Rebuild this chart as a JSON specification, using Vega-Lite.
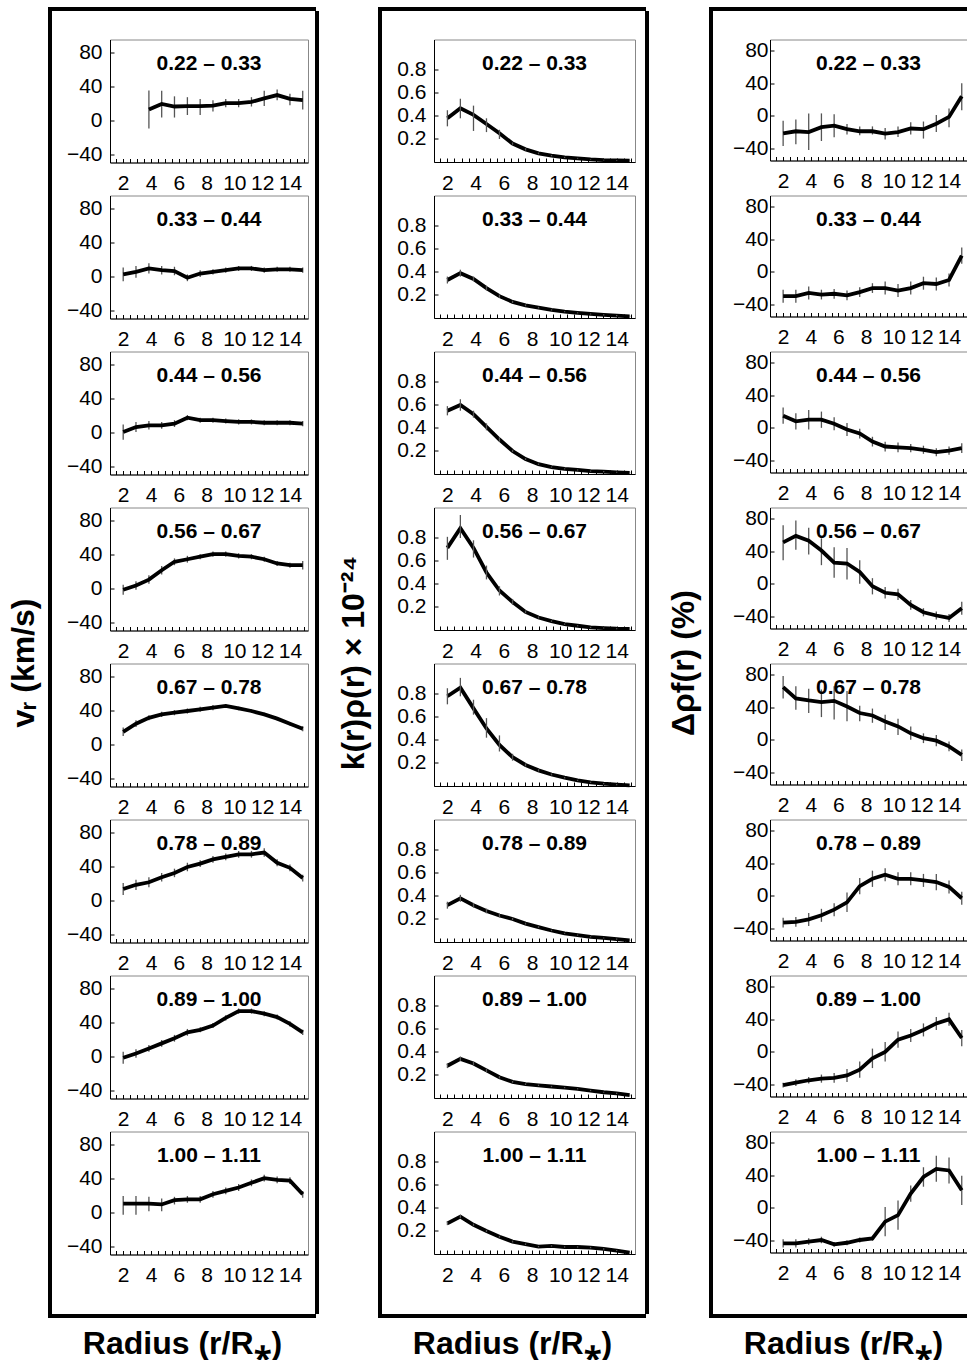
{
"$schema": "https://vega.github.io/schema/vega-lite/v6.json",
"background": "white",
"padding": {"left": 6, "top": 7, "right": 0, "bottom": 0},
"datasets": {
"vr": [
{"p":1,"r":3.85,"v":12.5,"lo":-10,"hi":35},{"p":1,"r":4.77,"v":19,"lo":3,"hi":34.5},{"p":1,"r":5.69,"v":16,"lo":3,"hi":28},{"p":1,"r":6.62,"v":16.5,"lo":6,"hi":27},{"p":1,"r":7.54,"v":16.5,"lo":6,"hi":25},{"p":1,"r":8.46,"v":17,"lo":10,"hi":23.5},{"p":1,"r":9.38,"v":20,"lo":15,"hi":25},{"p":1,"r":10.31,"v":20,"lo":15,"hi":25},{"p":1,"r":11.23,"v":21.5,"lo":16,"hi":27},{"p":1,"r":12.15,"v":25.5,"lo":16.5,"hi":34.5},{"p":1,"r":13.08,"v":29.5,"lo":23.5,"hi":36},{"p":1,"r":14,"v":25,"lo":17.5,"hi":31},{"p":1,"r":14.92,"v":23.5,"lo":12.5,"hi":34.5},
{"p":2,"r":2,"v":2,"lo":-6,"hi":10},{"p":2,"r":2.92,"v":5,"lo":-2,"hi":12},{"p":2,"r":3.85,"v":9,"lo":3,"hi":15},{"p":2,"r":4.77,"v":7,"lo":2,"hi":12},{"p":2,"r":5.69,"v":6,"lo":1,"hi":11},{"p":2,"r":6.62,"v":-2,"lo":-6,"hi":2},{"p":2,"r":7.54,"v":3,"lo":-1,"hi":7},{"p":2,"r":8.46,"v":5,"lo":2,"hi":8},{"p":2,"r":9.38,"v":7,"lo":4,"hi":10},{"p":2,"r":10.31,"v":9,"lo":6,"hi":12},{"p":2,"r":11.23,"v":9,"lo":6,"hi":12},{"p":2,"r":12.15,"v":7,"lo":4,"hi":10},{"p":2,"r":13.08,"v":8,"lo":5,"hi":11},{"p":2,"r":14,"v":8,"lo":5,"hi":11},{"p":2,"r":14.92,"v":7,"lo":4,"hi":10},
{"p":3,"r":2,"v":0,"lo":-9,"hi":9},{"p":3,"r":2.92,"v":6,"lo":0,"hi":12},{"p":3,"r":3.85,"v":8,"lo":3,"hi":13},{"p":3,"r":4.77,"v":8,"lo":4,"hi":12},{"p":3,"r":5.69,"v":10,"lo":6,"hi":14},{"p":3,"r":6.62,"v":17,"lo":14,"hi":20},{"p":3,"r":7.54,"v":14,"lo":11,"hi":17},{"p":3,"r":8.46,"v":14,"lo":11,"hi":17},{"p":3,"r":9.38,"v":13,"lo":10,"hi":16},{"p":3,"r":10.31,"v":12,"lo":9,"hi":15},{"p":3,"r":11.23,"v":12,"lo":9,"hi":15},{"p":3,"r":12.15,"v":11,"lo":8,"hi":14},{"p":3,"r":13.08,"v":11,"lo":8,"hi":14},{"p":3,"r":14,"v":11,"lo":8,"hi":14},{"p":3,"r":14.92,"v":10,"lo":7,"hi":13},
{"p":4,"r":2,"v":-2,"lo":-8,"hi":4},{"p":4,"r":2.92,"v":3,"lo":-2,"hi":8},{"p":4,"r":3.85,"v":10,"lo":5,"hi":15},{"p":4,"r":4.77,"v":21,"lo":16,"hi":26},{"p":4,"r":5.69,"v":31,"lo":27,"hi":35},{"p":4,"r":6.62,"v":34,"lo":30,"hi":38},{"p":4,"r":7.54,"v":37,"lo":34,"hi":40},{"p":4,"r":8.46,"v":40,"lo":37,"hi":43},{"p":4,"r":9.38,"v":40,"lo":37,"hi":43},{"p":4,"r":10.31,"v":38,"lo":35,"hi":41},{"p":4,"r":11.23,"v":37,"lo":34,"hi":40},{"p":4,"r":12.15,"v":34,"lo":31,"hi":37},{"p":4,"r":13.08,"v":29,"lo":26,"hi":32},{"p":4,"r":14,"v":27,"lo":24,"hi":30},{"p":4,"r":14.92,"v":27,"lo":22,"hi":32},
{"p":5,"r":2,"v":14.5,"lo":9.5,"hi":19.5},{"p":5,"r":2.92,"v":24,"lo":20,"hi":28},{"p":5,"r":3.85,"v":31,"lo":28,"hi":34},{"p":5,"r":4.77,"v":35,"lo":32,"hi":38},{"p":5,"r":5.69,"v":37,"lo":34,"hi":40},{"p":5,"r":6.62,"v":39,"lo":36,"hi":42},{"p":5,"r":7.54,"v":41,"lo":38,"hi":44},{"p":5,"r":8.46,"v":43,"lo":40,"hi":46},{"p":5,"r":9.38,"v":45,"lo":43,"hi":47},{"p":5,"r":10.31,"v":42,"lo":40,"hi":44},{"p":5,"r":11.23,"v":39,"lo":37,"hi":41},{"p":5,"r":12.15,"v":35,"lo":33,"hi":37},{"p":5,"r":13.08,"v":30,"lo":28,"hi":32},{"p":5,"r":14,"v":24,"lo":22,"hi":26},{"p":5,"r":14.92,"v":18,"lo":15,"hi":21},
{"p":6,"r":2,"v":13,"lo":6,"hi":20},{"p":6,"r":2.92,"v":18,"lo":12,"hi":24},{"p":6,"r":3.85,"v":21,"lo":15,"hi":27},{"p":6,"r":4.77,"v":27,"lo":22,"hi":32},{"p":6,"r":5.69,"v":32,"lo":27,"hi":37},{"p":6,"r":6.62,"v":39,"lo":34,"hi":44},{"p":6,"r":7.54,"v":43,"lo":39,"hi":47},{"p":6,"r":8.46,"v":48,"lo":44,"hi":52},{"p":6,"r":9.38,"v":51,"lo":47,"hi":55},{"p":6,"r":10.31,"v":54,"lo":50,"hi":58},{"p":6,"r":11.23,"v":54,"lo":50,"hi":58},{"p":6,"r":12.15,"v":56,"lo":51,"hi":61},{"p":6,"r":13.08,"v":44,"lo":40,"hi":48},{"p":6,"r":14,"v":38,"lo":34,"hi":42},{"p":6,"r":14.92,"v":26,"lo":22,"hi":30},
{"p":7,"r":2,"v":-2,"lo":-9,"hi":5},{"p":7,"r":2.92,"v":3,"lo":-2,"hi":8},{"p":7,"r":3.85,"v":9,"lo":5,"hi":13},{"p":7,"r":4.77,"v":15,"lo":11,"hi":19},{"p":7,"r":5.69,"v":21,"lo":17,"hi":25},{"p":7,"r":6.62,"v":28,"lo":24,"hi":32},{"p":7,"r":7.54,"v":31,"lo":28,"hi":34},{"p":7,"r":8.46,"v":36,"lo":33,"hi":39},{"p":7,"r":9.38,"v":45,"lo":42,"hi":48},{"p":7,"r":10.31,"v":53,"lo":50,"hi":56},{"p":7,"r":11.23,"v":53,"lo":50,"hi":56},{"p":7,"r":12.15,"v":50,"lo":47,"hi":53},{"p":7,"r":13.08,"v":46,"lo":43,"hi":49},{"p":7,"r":14,"v":38,"lo":35,"hi":41},{"p":7,"r":14.92,"v":28,"lo":25,"hi":31},
{"p":8,"r":2,"v":10,"lo":-3,"hi":19},{"p":8,"r":2.92,"v":10,"lo":-3,"hi":19},{"p":8,"r":3.85,"v":10,"lo":1,"hi":18},{"p":8,"r":4.77,"v":9,"lo":1,"hi":16},{"p":8,"r":5.69,"v":14,"lo":9,"hi":18},{"p":8,"r":6.62,"v":15,"lo":11,"hi":19},{"p":8,"r":7.54,"v":15,"lo":11,"hi":19},{"p":8,"r":8.46,"v":21,"lo":17,"hi":25},{"p":8,"r":9.38,"v":25,"lo":21,"hi":29},{"p":8,"r":10.31,"v":29,"lo":25,"hi":33},{"p":8,"r":11.23,"v":34.5,"lo":30.5,"hi":38.5},{"p":8,"r":12.15,"v":40,"lo":36,"hi":44},{"p":8,"r":13.08,"v":38,"lo":34,"hi":42},{"p":8,"r":14,"v":37,"lo":33,"hi":41},{"p":8,"r":14.92,"v":21,"lo":17,"hi":25}
],
"kr": [
{"p":1,"r":2,"v":0.38,"lo":0.31,"hi":0.45},{"p":1,"r":2.92,"v":0.467,"lo":0.38,"hi":0.55},{"p":1,"r":3.85,"v":0.41,"lo":0.27,"hi":0.49},{"p":1,"r":4.77,"v":0.33,"lo":0.26,"hi":0.38},{"p":1,"r":5.69,"v":0.25,"lo":0.2,"hi":0.28},{"p":1,"r":6.62,"v":0.16,"lo":0.15,"hi":0.17},{"p":1,"r":7.54,"v":0.11,"lo":0.1,"hi":0.12},{"p":1,"r":8.46,"v":0.075,"lo":0.068,"hi":0.082},{"p":1,"r":9.38,"v":0.055,"lo":0.049,"hi":0.061},{"p":1,"r":10.31,"v":0.04,"lo":0.035,"hi":0.045},{"p":1,"r":11.23,"v":0.032,"lo":0.028,"hi":0.036},{"p":1,"r":12.15,"v":0.023,"lo":0.02,"hi":0.026},{"p":1,"r":13.08,"v":0.017,"lo":0.014,"hi":0.02},{"p":1,"r":14,"v":0.014,"lo":0.011,"hi":0.017},{"p":1,"r":14.92,"v":0.012,"lo":0.009,"hi":0.015},
{"p":2,"r":2,"v":0.33,"lo":0.3,"hi":0.36},{"p":2,"r":2.92,"v":0.39,"lo":0.36,"hi":0.42},{"p":2,"r":3.85,"v":0.34,"lo":0.32,"hi":0.36},{"p":2,"r":4.77,"v":0.26,"lo":0.24,"hi":0.28},{"p":2,"r":5.69,"v":0.19,"lo":0.175,"hi":0.205},{"p":2,"r":6.62,"v":0.14,"lo":0.13,"hi":0.15},{"p":2,"r":7.54,"v":0.11,"lo":0.102,"hi":0.118},{"p":2,"r":8.46,"v":0.09,"lo":0.083,"hi":0.097},{"p":2,"r":9.38,"v":0.07,"lo":0.064,"hi":0.076},{"p":2,"r":10.31,"v":0.055,"lo":0.05,"hi":0.06},{"p":2,"r":11.23,"v":0.045,"lo":0.04,"hi":0.05},{"p":2,"r":12.15,"v":0.035,"lo":0.03,"hi":0.04},{"p":2,"r":13.08,"v":0.027,"lo":0.022,"hi":0.032},{"p":2,"r":14,"v":0.02,"lo":0.015,"hi":0.025},{"p":2,"r":14.92,"v":0.015,"lo":0.01,"hi":0.02},
{"p":3,"r":2,"v":0.55,"lo":0.51,"hi":0.59},{"p":3,"r":2.92,"v":0.6,"lo":0.55,"hi":0.65},{"p":3,"r":3.85,"v":0.52,"lo":0.49,"hi":0.55},{"p":3,"r":4.77,"v":0.41,"lo":0.38,"hi":0.44},{"p":3,"r":5.69,"v":0.3,"lo":0.28,"hi":0.32},{"p":3,"r":6.62,"v":0.2,"lo":0.19,"hi":0.21},{"p":3,"r":7.54,"v":0.13,"lo":0.122,"hi":0.138},{"p":3,"r":8.46,"v":0.085,"lo":0.079,"hi":0.091},{"p":3,"r":9.38,"v":0.06,"lo":0.055,"hi":0.065},{"p":3,"r":10.31,"v":0.045,"lo":0.04,"hi":0.05},{"p":3,"r":11.23,"v":0.035,"lo":0.03,"hi":0.04},{"p":3,"r":12.15,"v":0.025,"lo":0.02,"hi":0.03},{"p":3,"r":13.08,"v":0.02,"lo":0.015,"hi":0.025},{"p":3,"r":14,"v":0.015,"lo":0.01,"hi":0.02},{"p":3,"r":14.92,"v":0.01,"lo":0.005,"hi":0.015},
{"p":4,"r":2,"v":0.714,"lo":0.61,"hi":0.81},{"p":4,"r":2.92,"v":0.886,"lo":0.8,"hi":1.0},{"p":4,"r":3.85,"v":0.714,"lo":0.63,"hi":0.78},{"p":4,"r":4.77,"v":0.5,"lo":0.44,"hi":0.56},{"p":4,"r":5.69,"v":0.343,"lo":0.3,"hi":0.38},{"p":4,"r":6.62,"v":0.243,"lo":0.22,"hi":0.27},{"p":4,"r":7.54,"v":0.157,"lo":0.145,"hi":0.17},{"p":4,"r":8.46,"v":0.109,"lo":0.1,"hi":0.118},{"p":4,"r":9.38,"v":0.077,"lo":0.07,"hi":0.084},{"p":4,"r":10.31,"v":0.051,"lo":0.045,"hi":0.057},{"p":4,"r":11.23,"v":0.037,"lo":0.032,"hi":0.042},{"p":4,"r":12.15,"v":0.023,"lo":0.018,"hi":0.028},{"p":4,"r":13.08,"v":0.017,"lo":0.012,"hi":0.022},{"p":4,"r":14,"v":0.011,"lo":0.006,"hi":0.016},{"p":4,"r":14.92,"v":0.009,"lo":0.004,"hi":0.014},
{"p":5,"r":2,"v":0.78,"lo":0.71,"hi":0.85},{"p":5,"r":2.92,"v":0.855,"lo":0.78,"hi":0.94},{"p":5,"r":3.85,"v":0.675,"lo":0.62,"hi":0.75},{"p":5,"r":4.77,"v":0.5,"lo":0.42,"hi":0.59},{"p":5,"r":5.69,"v":0.357,"lo":0.3,"hi":0.44},{"p":5,"r":6.62,"v":0.25,"lo":0.22,"hi":0.28},{"p":5,"r":7.54,"v":0.183,"lo":0.17,"hi":0.196},{"p":5,"r":8.46,"v":0.136,"lo":0.126,"hi":0.146},{"p":5,"r":9.38,"v":0.1,"lo":0.092,"hi":0.108},{"p":5,"r":10.31,"v":0.072,"lo":0.066,"hi":0.078},{"p":5,"r":11.23,"v":0.049,"lo":0.044,"hi":0.054},{"p":5,"r":12.15,"v":0.032,"lo":0.027,"hi":0.037},{"p":5,"r":13.08,"v":0.02,"lo":0.015,"hi":0.025},{"p":5,"r":14,"v":0.012,"lo":0.007,"hi":0.017},{"p":5,"r":14.92,"v":0.006,"lo":0.002,"hi":0.01},
{"p":6,"r":2,"v":0.32,"lo":0.29,"hi":0.35},{"p":6,"r":2.92,"v":0.38,"lo":0.35,"hi":0.41},{"p":6,"r":3.85,"v":0.32,"lo":0.3,"hi":0.34},{"p":6,"r":4.77,"v":0.27,"lo":0.25,"hi":0.29},{"p":6,"r":5.69,"v":0.23,"lo":0.215,"hi":0.245},{"p":6,"r":6.62,"v":0.2,"lo":0.19,"hi":0.21},{"p":6,"r":7.54,"v":0.16,"lo":0.152,"hi":0.168},{"p":6,"r":8.46,"v":0.13,"lo":0.123,"hi":0.137},{"p":6,"r":9.38,"v":0.1,"lo":0.094,"hi":0.106},{"p":6,"r":10.31,"v":0.075,"lo":0.07,"hi":0.08},{"p":6,"r":11.23,"v":0.06,"lo":0.055,"hi":0.065},{"p":6,"r":12.15,"v":0.045,"lo":0.04,"hi":0.05},{"p":6,"r":13.08,"v":0.035,"lo":0.03,"hi":0.04},{"p":6,"r":14,"v":0.025,"lo":0.02,"hi":0.03},{"p":6,"r":14.92,"v":0.015,"lo":0.01,"hi":0.02},
{"p":7,"r":2,"v":0.28,"lo":0.26,"hi":0.3},{"p":7,"r":2.92,"v":0.34,"lo":0.32,"hi":0.36},{"p":7,"r":3.85,"v":0.3,"lo":0.285,"hi":0.315},{"p":7,"r":4.77,"v":0.24,"lo":0.225,"hi":0.255},{"p":7,"r":5.69,"v":0.18,"lo":0.17,"hi":0.19},{"p":7,"r":6.62,"v":0.14,"lo":0.132,"hi":0.148},{"p":7,"r":7.54,"v":0.12,"lo":0.113,"hi":0.127},{"p":7,"r":8.46,"v":0.11,"lo":0.104,"hi":0.116},{"p":7,"r":9.38,"v":0.1,"lo":0.094,"hi":0.106},{"p":7,"r":10.31,"v":0.09,"lo":0.085,"hi":0.095},{"p":7,"r":11.23,"v":0.08,"lo":0.075,"hi":0.085},{"p":7,"r":12.15,"v":0.065,"lo":0.06,"hi":0.07},{"p":7,"r":13.08,"v":0.05,"lo":0.045,"hi":0.055},{"p":7,"r":14,"v":0.04,"lo":0.035,"hi":0.045},{"p":7,"r":14.92,"v":0.025,"lo":0.02,"hi":0.03},
{"p":8,"r":2,"v":0.266,"lo":0.251,"hi":0.281},{"p":8,"r":2.92,"v":0.325,"lo":0.31,"hi":0.34},{"p":8,"r":3.85,"v":0.254,"lo":0.244,"hi":0.264},{"p":8,"r":4.77,"v":0.2,"lo":0.19,"hi":0.21},{"p":8,"r":5.69,"v":0.15,"lo":0.142,"hi":0.158},{"p":8,"r":6.62,"v":0.108,"lo":0.1,"hi":0.116},{"p":8,"r":7.54,"v":0.085,"lo":0.078,"hi":0.092},{"p":8,"r":8.46,"v":0.064,"lo":0.058,"hi":0.07},{"p":8,"r":9.38,"v":0.07,"lo":0.064,"hi":0.076},{"p":8,"r":10.31,"v":0.061,"lo":0.055,"hi":0.067},{"p":8,"r":11.23,"v":0.061,"lo":0.055,"hi":0.067},{"p":8,"r":12.15,"v":0.056,"lo":0.05,"hi":0.062},{"p":8,"r":13.08,"v":0.044,"lo":0.038,"hi":0.05},{"p":8,"r":14,"v":0.03,"lo":0.025,"hi":0.035},{"p":8,"r":14.92,"v":0.012,"lo":0.007,"hi":0.017}
],
"dr": [
{"p":1,"r":2,"v":-21.5,"lo":-37,"hi":-6},{"p":1,"r":2.92,"v":-19,"lo":-35,"hi":-4.6},{"p":1,"r":3.85,"v":-20,"lo":-42,"hi":3},{"p":1,"r":4.77,"v":-14,"lo":-31,"hi":3},{"p":1,"r":5.69,"v":-12,"lo":-26.5,"hi":2},{"p":1,"r":6.62,"v":-16.4,"lo":-23,"hi":-10},{"p":1,"r":7.54,"v":-19,"lo":-24,"hi":-13},{"p":1,"r":8.46,"v":-19,"lo":-23,"hi":-13},{"p":1,"r":9.38,"v":-22,"lo":-29,"hi":-15},{"p":1,"r":10.31,"v":-20,"lo":-26,"hi":-13},{"p":1,"r":11.23,"v":-15.6,"lo":-23,"hi":-8},{"p":1,"r":12.15,"v":-16.4,"lo":-28,"hi":-7},{"p":1,"r":13.08,"v":-9.7,"lo":-20,"hi":1},{"p":1,"r":14,"v":-1.3,"lo":-14,"hi":9},{"p":1,"r":14.92,"v":24,"lo":7,"hi":40},
{"p":2,"r":2,"v":-30,"lo":-38,"hi":-22},{"p":2,"r":2.92,"v":-30,"lo":-38,"hi":-22},{"p":2,"r":3.85,"v":-26,"lo":-34,"hi":-18},{"p":2,"r":4.77,"v":-28,"lo":-34,"hi":-22},{"p":2,"r":5.69,"v":-27,"lo":-33,"hi":-21},{"p":2,"r":6.62,"v":-29,"lo":-35,"hi":-23},{"p":2,"r":7.54,"v":-25,"lo":-31,"hi":-19},{"p":2,"r":8.46,"v":-20,"lo":-26,"hi":-14},{"p":2,"r":9.38,"v":-20,"lo":-28,"hi":-12},{"p":2,"r":10.31,"v":-23,"lo":-31,"hi":-15},{"p":2,"r":11.23,"v":-20,"lo":-28,"hi":-12},{"p":2,"r":12.15,"v":-14,"lo":-22,"hi":-6},{"p":2,"r":13.08,"v":-15,"lo":-23,"hi":-7},{"p":2,"r":14,"v":-10,"lo":-18,"hi":-2},{"p":2,"r":14.92,"v":20,"lo":10,"hi":30},
{"p":3,"r":2,"v":15,"lo":5,"hi":25},{"p":3,"r":2.92,"v":8,"lo":-2,"hi":18},{"p":3,"r":3.85,"v":10,"lo":-2,"hi":22},{"p":3,"r":4.77,"v":10,"lo":0,"hi":20},{"p":3,"r":5.69,"v":5,"lo":-3,"hi":13},{"p":3,"r":6.62,"v":-2,"lo":-10,"hi":6},{"p":3,"r":7.54,"v":-7,"lo":-13,"hi":-1},{"p":3,"r":8.46,"v":-17,"lo":-23,"hi":-11},{"p":3,"r":9.38,"v":-23,"lo":-29,"hi":-17},{"p":3,"r":10.31,"v":-24,"lo":-30,"hi":-18},{"p":3,"r":11.23,"v":-25,"lo":-30,"hi":-20},{"p":3,"r":12.15,"v":-27,"lo":-32,"hi":-22},{"p":3,"r":13.08,"v":-30,"lo":-35,"hi":-25},{"p":3,"r":14,"v":-28,"lo":-33,"hi":-23},{"p":3,"r":14.92,"v":-25,"lo":-31,"hi":-19},
{"p":4,"r":2,"v":51,"lo":29,"hi":72},{"p":4,"r":2.92,"v":59,"lo":42,"hi":78},{"p":4,"r":3.85,"v":53,"lo":36,"hi":69},{"p":4,"r":4.77,"v":41,"lo":23,"hi":56},{"p":4,"r":5.69,"v":26,"lo":7.5,"hi":45},{"p":4,"r":6.62,"v":25,"lo":5.4,"hi":44},{"p":4,"r":7.54,"v":14.6,"lo":0,"hi":29},{"p":4,"r":8.46,"v":-3,"lo":-13,"hi":7},{"p":4,"r":9.38,"v":-11,"lo":-18,"hi":-4},{"p":4,"r":10.31,"v":-13,"lo":-20,"hi":-6},{"p":4,"r":11.23,"v":-26,"lo":-32,"hi":-20},{"p":4,"r":12.15,"v":-35,"lo":-40,"hi":-30},{"p":4,"r":13.08,"v":-39,"lo":-44,"hi":-34},{"p":4,"r":14,"v":-42,"lo":-47,"hi":-37},{"p":4,"r":14.92,"v":-30,"lo":-38,"hi":-22},
{"p":5,"r":2,"v":65,"lo":51,"hi":78.5},{"p":5,"r":2.92,"v":51,"lo":37,"hi":66},{"p":5,"r":3.85,"v":48.5,"lo":33,"hi":63},{"p":5,"r":4.77,"v":46.5,"lo":28,"hi":62},{"p":5,"r":5.69,"v":48,"lo":25,"hi":66},{"p":5,"r":6.62,"v":41,"lo":23,"hi":60},{"p":5,"r":7.54,"v":33,"lo":23,"hi":42},{"p":5,"r":8.46,"v":30,"lo":21,"hi":38.5},{"p":5,"r":9.38,"v":22.6,"lo":12,"hi":31},{"p":5,"r":10.31,"v":16.5,"lo":6,"hi":26},{"p":5,"r":11.23,"v":8,"lo":0,"hi":16.5},{"p":5,"r":12.15,"v":2,"lo":-4,"hi":8},{"p":5,"r":13.08,"v":-1,"lo":-8,"hi":6},{"p":5,"r":14,"v":-8,"lo":-14,"hi":-2},{"p":5,"r":14.92,"v":-18.5,"lo":-26,"hi":-12},
{"p":6,"r":2,"v":-33,"lo":-39,"hi":-27},{"p":6,"r":2.92,"v":-32,"lo":-38,"hi":-26},{"p":6,"r":3.85,"v":-29,"lo":-37,"hi":-21},{"p":6,"r":4.77,"v":-24,"lo":-32,"hi":-16},{"p":6,"r":5.69,"v":-17,"lo":-25,"hi":-9},{"p":6,"r":6.62,"v":-8,"lo":-20,"hi":4},{"p":6,"r":7.54,"v":12,"lo":2,"hi":22},{"p":6,"r":8.46,"v":21,"lo":11,"hi":31},{"p":6,"r":9.38,"v":26,"lo":18,"hi":34},{"p":6,"r":10.31,"v":21,"lo":13,"hi":29},{"p":6,"r":11.23,"v":21,"lo":13,"hi":29},{"p":6,"r":12.15,"v":19,"lo":11,"hi":27},{"p":6,"r":13.08,"v":17,"lo":7,"hi":27},{"p":6,"r":14,"v":11,"lo":3,"hi":19},{"p":6,"r":14.92,"v":-3,"lo":-11,"hi":5},
{"p":7,"r":2,"v":-41,"lo":-44,"hi":-38},{"p":7,"r":2.92,"v":-38,"lo":-42,"hi":-34},{"p":7,"r":3.85,"v":-35,"lo":-39,"hi":-31},{"p":7,"r":4.77,"v":-33,"lo":-38,"hi":-28},{"p":7,"r":5.69,"v":-32,"lo":-38,"hi":-26},{"p":7,"r":6.62,"v":-29,"lo":-37,"hi":-21},{"p":7,"r":7.54,"v":-22,"lo":-32,"hi":-12},{"p":7,"r":8.46,"v":-8,"lo":-20,"hi":4},{"p":7,"r":9.38,"v":0,"lo":-12,"hi":12},{"p":7,"r":10.31,"v":15,"lo":5,"hi":25},{"p":7,"r":11.23,"v":20,"lo":12,"hi":28},{"p":7,"r":12.15,"v":27,"lo":19,"hi":35},{"p":7,"r":13.08,"v":35,"lo":27,"hi":43},{"p":7,"r":14,"v":40,"lo":32,"hi":48},{"p":7,"r":14.92,"v":17,"lo":7,"hi":27},
{"p":8,"r":2,"v":-43.7,"lo":-48.7,"hi":-38.7},{"p":8,"r":2.92,"v":-43.7,"lo":-48.7,"hi":-38.7},{"p":8,"r":3.85,"v":-41.6,"lo":-45.6,"hi":-37.6},{"p":8,"r":4.77,"v":-39.6,"lo":-43.6,"hi":-35.6},{"p":8,"r":5.69,"v":-45,"lo":-48,"hi":-42},{"p":8,"r":6.62,"v":-43,"lo":-46,"hi":-40},{"p":8,"r":7.54,"v":-39.6,"lo":-42.6,"hi":-36.6},{"p":8,"r":8.46,"v":-37.6,"lo":-40.6,"hi":-34.6},{"p":8,"r":9.38,"v":-17,"lo":-35,"hi":1},{"p":8,"r":10.31,"v":-9,"lo":-27,"hi":9},{"p":8,"r":11.23,"v":17.6,"lo":7.6,"hi":27.6},{"p":8,"r":12.15,"v":38,"lo":26,"hi":50},{"p":8,"r":13.08,"v":48,"lo":32,"hi":64},{"p":8,"r":14,"v":46,"lo":30,"hi":62},{"p":8,"r":14.92,"v":21.6,"lo":3.6,"hi":39.6}
]
},
"spacing": 17,
"hconcat": [
{"spacing": 0, "vconcat": [
 {"width": 266, "height": 2, "view": {"fill": "black", "stroke": "black", "strokeWidth": 2}, "data": {"values": []}, "mark": "point"},
 {"center": true, "spacing": 4, "hconcat": [
  {"width": 2, "height": 1301, "view": {"fill": "black", "stroke": "black", "strokeWidth": 2}, "data": {"values": []}, "mark": "point",
   "encoding": {"y": {"field": "v", "type": "quantitative", "scale": {"domain": [0, 1]}, "axis": {"title": "vᵣ (km/s)", "labels": false, "ticks": false, "domain": false, "minExtent": 0, "titleFontSize": 32, "titleFontWeight": "bold", "titleColor": "black", "titlePadding": 9}}}},
  {"data": {"name": "vr"}, "spacing": 0, "vconcat": [
   {"title": "0.22 – 0.33", "width": 198, "height": 123, "transform": [{"filter": "datum.p == 1"}],
    "encoding": {"x": {"field": "r", "type": "quantitative", "scale": {"domain": [1.05, 15.3], "nice": false, "zero": false}, "axis": {"title": null, "minExtent": 31.5, "values": [1.5,2,2.5,3,3.5,4,4.5,5,5.5,6,6.5,7,7.5,8,8.5,9,9.5,10,10.5,11,11.5,12,12.5,13,13.5,14,14.5,15], "labelExpr": "datum.value % 2 === 0 ? '' + datum.value : ''"}},
     "y": {"field": "v", "type": "quantitative", "scale": {"domain": [-50, 95], "nice": false, "zero": false}, "axis": {"title": null, "minExtent": 53, "values": [-40,-20,0,20,40,60,80], "labelExpr": "datum.value % 40 === 0 ? datum.label : ''"}}},
    "layer": [
     {"transform": [{"aggregate": [{"op": "count", "as": "n"}]}], "mark": {"type": "rule", "color": "#333", "strokeWidth": 1}, "encoding": {"x": {"datum": 1.05}, "x2": {"datum": 15.3}, "y": {"datum": 0, "type": "quantitative"}}},
     {"mark": {"type": "rule", "color": "#555", "strokeWidth": 1.3}, "encoding": {"y": {"field": "lo", "type": "quantitative", "scale": {"domain": [-50, 95], "nice": false, "zero": false}, "axis": {"title": null, "minExtent": 53}}, "y2": {"field": "hi"}}},
     {"mark": {"type": "line", "color": "black", "strokeWidth": 3.8}}
    ]},
   {"title": "0.33 – 0.44", "width": 198, "height": 123, "transform": [{"filter": "datum.p == 2"}],
    "encoding": {"x": {"field": "r", "type": "quantitative", "scale": {"domain": [1.05, 15.3], "nice": false, "zero": false}, "axis": {"title": null, "minExtent": 31.5, "values": [1.5,2,2.5,3,3.5,4,4.5,5,5.5,6,6.5,7,7.5,8,8.5,9,9.5,10,10.5,11,11.5,12,12.5,13,13.5,14,14.5,15], "labelExpr": "datum.value % 2 === 0 ? '' + datum.value : ''"}},
     "y": {"field": "v", "type": "quantitative", "scale": {"domain": [-50, 95], "nice": false, "zero": false}, "axis": {"title": null, "minExtent": 53, "values": [-40,-20,0,20,40,60,80], "labelExpr": "datum.value % 40 === 0 ? datum.label : ''"}}},
    "layer": [
     {"transform": [{"aggregate": [{"op": "count", "as": "n"}]}], "mark": {"type": "rule", "color": "#333", "strokeWidth": 1}, "encoding": {"x": {"datum": 1.05}, "x2": {"datum": 15.3}, "y": {"datum": 0, "type": "quantitative"}}},
     {"mark": {"type": "rule", "color": "#555", "strokeWidth": 1.3}, "encoding": {"y": {"field": "lo", "type": "quantitative", "scale": {"domain": [-50, 95], "nice": false, "zero": false}, "axis": {"title": null, "minExtent": 53}}, "y2": {"field": "hi"}}},
     {"mark": {"type": "line", "color": "black", "strokeWidth": 3.8}}
    ]},
   {"title": "0.44 – 0.56", "width": 198, "height": 123, "transform": [{"filter": "datum.p == 3"}],
    "encoding": {"x": {"field": "r", "type": "quantitative", "scale": {"domain": [1.05, 15.3], "nice": false, "zero": false}, "axis": {"title": null, "minExtent": 31.5, "values": [1.5,2,2.5,3,3.5,4,4.5,5,5.5,6,6.5,7,7.5,8,8.5,9,9.5,10,10.5,11,11.5,12,12.5,13,13.5,14,14.5,15], "labelExpr": "datum.value % 2 === 0 ? '' + datum.value : ''"}},
     "y": {"field": "v", "type": "quantitative", "scale": {"domain": [-50, 95], "nice": false, "zero": false}, "axis": {"title": null, "minExtent": 53, "values": [-40,-20,0,20,40,60,80], "labelExpr": "datum.value % 40 === 0 ? datum.label : ''"}}},
    "layer": [
     {"transform": [{"aggregate": [{"op": "count", "as": "n"}]}], "mark": {"type": "rule", "color": "#333", "strokeWidth": 1}, "encoding": {"x": {"datum": 1.05}, "x2": {"datum": 15.3}, "y": {"datum": 0, "type": "quantitative"}}},
     {"mark": {"type": "rule", "color": "#555", "strokeWidth": 1.3}, "encoding": {"y": {"field": "lo", "type": "quantitative", "scale": {"domain": [-50, 95], "nice": false, "zero": false}, "axis": {"title": null, "minExtent": 53}}, "y2": {"field": "hi"}}},
     {"mark": {"type": "line", "color": "black", "strokeWidth": 3.8}}
    ]},
   {"title": "0.56 – 0.67", "width": 198, "height": 123, "transform": [{"filter": "datum.p == 4"}],
    "encoding": {"x": {"field": "r", "type": "quantitative", "scale": {"domain": [1.05, 15.3], "nice": false, "zero": false}, "axis": {"title": null, "minExtent": 31.5, "values": [1.5,2,2.5,3,3.5,4,4.5,5,5.5,6,6.5,7,7.5,8,8.5,9,9.5,10,10.5,11,11.5,12,12.5,13,13.5,14,14.5,15], "labelExpr": "datum.value % 2 === 0 ? '' + datum.value : ''"}},
     "y": {"field": "v", "type": "quantitative", "scale": {"domain": [-50, 95], "nice": false, "zero": false}, "axis": {"title": null, "minExtent": 53, "values": [-40,-20,0,20,40,60,80], "labelExpr": "datum.value % 40 === 0 ? datum.label : ''"}}},
    "layer": [
     {"transform": [{"aggregate": [{"op": "count", "as": "n"}]}], "mark": {"type": "rule", "color": "#333", "strokeWidth": 1}, "encoding": {"x": {"datum": 1.05}, "x2": {"datum": 15.3}, "y": {"datum": 0, "type": "quantitative"}}},
     {"mark": {"type": "rule", "color": "#555", "strokeWidth": 1.3}, "encoding": {"y": {"field": "lo", "type": "quantitative", "scale": {"domain": [-50, 95], "nice": false, "zero": false}, "axis": {"title": null, "minExtent": 53}}, "y2": {"field": "hi"}}},
     {"mark": {"type": "line", "color": "black", "strokeWidth": 3.8}}
    ]},
   {"title": "0.67 – 0.78", "width": 198, "height": 123, "transform": [{"filter": "datum.p == 5"}],
    "encoding": {"x": {"field": "r", "type": "quantitative", "scale": {"domain": [1.05, 15.3], "nice": false, "zero": false}, "axis": {"title": null, "minExtent": 31.5, "values": [1.5,2,2.5,3,3.5,4,4.5,5,5.5,6,6.5,7,7.5,8,8.5,9,9.5,10,10.5,11,11.5,12,12.5,13,13.5,14,14.5,15], "labelExpr": "datum.value % 2 === 0 ? '' + datum.value : ''"}},
     "y": {"field": "v", "type": "quantitative", "scale": {"domain": [-50, 95], "nice": false, "zero": false}, "axis": {"title": null, "minExtent": 53, "values": [-40,-20,0,20,40,60,80], "labelExpr": "datum.value % 40 === 0 ? datum.label : ''"}}},
    "layer": [
     {"transform": [{"aggregate": [{"op": "count", "as": "n"}]}], "mark": {"type": "rule", "color": "#333", "strokeWidth": 1}, "encoding": {"x": {"datum": 1.05}, "x2": {"datum": 15.3}, "y": {"datum": 0, "type": "quantitative"}}},
     {"mark": {"type": "rule", "color": "#555", "strokeWidth": 1.3}, "encoding": {"y": {"field": "lo", "type": "quantitative", "scale": {"domain": [-50, 95], "nice": false, "zero": false}, "axis": {"title": null, "minExtent": 53}}, "y2": {"field": "hi"}}},
     {"mark": {"type": "line", "color": "black", "strokeWidth": 3.8}}
    ]},
   {"title": "0.78 – 0.89", "width": 198, "height": 123, "transform": [{"filter": "datum.p == 6"}],
    "encoding": {"x": {"field": "r", "type": "quantitative", "scale": {"domain": [1.05, 15.3], "nice": false, "zero": false}, "axis": {"title": null, "minExtent": 31.5, "values": [1.5,2,2.5,3,3.5,4,4.5,5,5.5,6,6.5,7,7.5,8,8.5,9,9.5,10,10.5,11,11.5,12,12.5,13,13.5,14,14.5,15], "labelExpr": "datum.value % 2 === 0 ? '' + datum.value : ''"}},
     "y": {"field": "v", "type": "quantitative", "scale": {"domain": [-50, 95], "nice": false, "zero": false}, "axis": {"title": null, "minExtent": 53, "values": [-40,-20,0,20,40,60,80], "labelExpr": "datum.value % 40 === 0 ? datum.label : ''"}}},
    "layer": [
     {"transform": [{"aggregate": [{"op": "count", "as": "n"}]}], "mark": {"type": "rule", "color": "#333", "strokeWidth": 1}, "encoding": {"x": {"datum": 1.05}, "x2": {"datum": 15.3}, "y": {"datum": 0, "type": "quantitative"}}},
     {"mark": {"type": "rule", "color": "#555", "strokeWidth": 1.3}, "encoding": {"y": {"field": "lo", "type": "quantitative", "scale": {"domain": [-50, 95], "nice": false, "zero": false}, "axis": {"title": null, "minExtent": 53}}, "y2": {"field": "hi"}}},
     {"mark": {"type": "line", "color": "black", "strokeWidth": 3.8}}
    ]},
   {"title": "0.89 – 1.00", "width": 198, "height": 123, "transform": [{"filter": "datum.p == 7"}],
    "encoding": {"x": {"field": "r", "type": "quantitative", "scale": {"domain": [1.05, 15.3], "nice": false, "zero": false}, "axis": {"title": null, "minExtent": 31.5, "values": [1.5,2,2.5,3,3.5,4,4.5,5,5.5,6,6.5,7,7.5,8,8.5,9,9.5,10,10.5,11,11.5,12,12.5,13,13.5,14,14.5,15], "labelExpr": "datum.value % 2 === 0 ? '' + datum.value : ''"}},
     "y": {"field": "v", "type": "quantitative", "scale": {"domain": [-50, 95], "nice": false, "zero": false}, "axis": {"title": null, "minExtent": 53, "values": [-40,-20,0,20,40,60,80], "labelExpr": "datum.value % 40 === 0 ? datum.label : ''"}}},
    "layer": [
     {"transform": [{"aggregate": [{"op": "count", "as": "n"}]}], "mark": {"type": "rule", "color": "#333", "strokeWidth": 1}, "encoding": {"x": {"datum": 1.05}, "x2": {"datum": 15.3}, "y": {"datum": 0, "type": "quantitative"}}},
     {"mark": {"type": "rule", "color": "#555", "strokeWidth": 1.3}, "encoding": {"y": {"field": "lo", "type": "quantitative", "scale": {"domain": [-50, 95], "nice": false, "zero": false}, "axis": {"title": null, "minExtent": 53}}, "y2": {"field": "hi"}}},
     {"mark": {"type": "line", "color": "black", "strokeWidth": 3.8}}
    ]},
   {"title": "1.00 – 1.11", "width": 198, "height": 123, "transform": [{"filter": "datum.p == 8"}],
    "encoding": {"x": {"field": "r", "type": "quantitative", "scale": {"domain": [1.05, 15.3], "nice": false, "zero": false}, "axis": {"title": null, "minExtent": 31.5, "values": [1.5,2,2.5,3,3.5,4,4.5,5,5.5,6,6.5,7,7.5,8,8.5,9,9.5,10,10.5,11,11.5,12,12.5,13,13.5,14,14.5,15], "labelExpr": "datum.value % 2 === 0 ? '' + datum.value : ''"}},
     "y": {"field": "v", "type": "quantitative", "scale": {"domain": [-50, 95], "nice": false, "zero": false}, "axis": {"title": null, "minExtent": 53, "values": [-40,-20,0,20,40,60,80], "labelExpr": "datum.value % 40 === 0 ? datum.label : ''"}}},
    "layer": [
     {"transform": [{"aggregate": [{"op": "count", "as": "n"}]}], "mark": {"type": "rule", "color": "#333", "strokeWidth": 1}, "encoding": {"x": {"datum": 1.05}, "x2": {"datum": 15.3}, "y": {"datum": 0, "type": "quantitative"}}},
     {"mark": {"type": "rule", "color": "#555", "strokeWidth": 1.3}, "encoding": {"y": {"field": "lo", "type": "quantitative", "scale": {"domain": [-50, 95], "nice": false, "zero": false}, "axis": {"title": null, "minExtent": 53}}, "y2": {"field": "hi"}}},
     {"mark": {"type": "line", "color": "black", "strokeWidth": 3.8}}
    ]}
  ]},
  {"width": 2, "height": 1301, "view": {"fill": "black", "stroke": "black", "strokeWidth": 2}, "data": {"values": []}, "mark": "point"}
 ]},
 {"width": 266, "height": 2, "view": {"fill": "black", "stroke": "black", "strokeWidth": 2}, "data": {"values": []}, "mark": "point",
  "encoding": {"x": {"field": "r", "type": "quantitative", "scale": {"domain": [0, 1]}, "axis": {"title": "Radius  (r/R⁎)", "labels": false, "ticks": false, "domain": false, "minExtent": 0, "titleFontSize": 32, "titleFontWeight": "bold", "titleColor": "black", "titlePadding": 11}}}}
]},
{"spacing": 0, "vconcat": [
 {"width": 266, "height": 2, "view": {"fill": "black", "stroke": "black", "strokeWidth": 2}, "data": {"values": []}, "mark": "point"},
 {"center": true, "spacing": 7, "hconcat": [
  {"width": 2, "height": 1301, "view": {"fill": "black", "stroke": "black", "strokeWidth": 2}, "data": {"values": []}, "mark": "point",
   "encoding": {"y": {"field": "v", "type": "quantitative", "scale": {"domain": [0, 1]}, "axis": {"title": "k(r)ρ(r) × 10⁻²⁴", "labels": false, "ticks": false, "domain": false, "minExtent": 0, "titleFontSize": 32, "titleFontWeight": "bold", "titleColor": "black", "titlePadding": 9}}}},
  {"data": {"name": "kr"}, "spacing": 0, "vconcat": [
   {"title": "0.22 – 0.33", "width": 201, "height": 122.5, "transform": [{"filter": "datum.p == 1"}],
    "encoding": {"x": {"field": "r", "type": "quantitative", "scale": {"domain": [1.05, 15.3], "nice": false, "zero": false}, "axis": {"title": null, "minExtent": 32, "values": [1.5,2,2.5,3,3.5,4,4.5,5,5.5,6,6.5,7,7.5,8,8.5,9,9.5,10,10.5,11,11.5,12,12.5,13,13.5,14,14.5,15], "labelExpr": "datum.value % 2 === 0 ? '' + datum.value : ''"}},
     "y": {"field": "v", "type": "quantitative", "scale": {"domain": [0, 1.065], "nice": false, "zero": false}, "axis": {"title": null, "minExtent": 44, "labels": true, "labelOverlap": false, "values": [0.2,0.4,0.6,0.8]}}},
    "layer": [
     {"mark": {"type": "line", "color": "black", "strokeWidth": 3.8}},
     {"mark": {"type": "rule", "color": "#555", "strokeWidth": 1.3}, "encoding": {"y": {"field": "lo", "type": "quantitative", "scale": {"domain": [0, 1.065], "nice": false, "zero": false}, "axis": {"title": null, "minExtent": 44, "labels": true, "labelOverlap": false, "values": [0.2,0.4,0.6,0.8]}}, "y2": {"field": "hi"}}}
    ]},
   {"title": "0.33 – 0.44", "width": 201, "height": 122.5, "transform": [{"filter": "datum.p == 2"}],
    "encoding": {"x": {"field": "r", "type": "quantitative", "scale": {"domain": [1.05, 15.3], "nice": false, "zero": false}, "axis": {"title": null, "minExtent": 32, "values": [1.5,2,2.5,3,3.5,4,4.5,5,5.5,6,6.5,7,7.5,8,8.5,9,9.5,10,10.5,11,11.5,12,12.5,13,13.5,14,14.5,15], "labelExpr": "datum.value % 2 === 0 ? '' + datum.value : ''"}},
     "y": {"field": "v", "type": "quantitative", "scale": {"domain": [0, 1.065], "nice": false, "zero": false}, "axis": {"title": null, "minExtent": 44, "labels": true, "labelOverlap": false, "values": [0.2,0.4,0.6,0.8]}}},
    "layer": [
     {"mark": {"type": "line", "color": "black", "strokeWidth": 3.8}},
     {"mark": {"type": "rule", "color": "#555", "strokeWidth": 1.3}, "encoding": {"y": {"field": "lo", "type": "quantitative", "scale": {"domain": [0, 1.065], "nice": false, "zero": false}, "axis": {"title": null, "minExtent": 44, "labels": true, "labelOverlap": false, "values": [0.2,0.4,0.6,0.8]}}, "y2": {"field": "hi"}}}
    ]},
   {"title": "0.44 – 0.56", "width": 201, "height": 122.5, "transform": [{"filter": "datum.p == 3"}],
    "encoding": {"x": {"field": "r", "type": "quantitative", "scale": {"domain": [1.05, 15.3], "nice": false, "zero": false}, "axis": {"title": null, "minExtent": 32, "values": [1.5,2,2.5,3,3.5,4,4.5,5,5.5,6,6.5,7,7.5,8,8.5,9,9.5,10,10.5,11,11.5,12,12.5,13,13.5,14,14.5,15], "labelExpr": "datum.value % 2 === 0 ? '' + datum.value : ''"}},
     "y": {"field": "v", "type": "quantitative", "scale": {"domain": [0, 1.065], "nice": false, "zero": false}, "axis": {"title": null, "minExtent": 44, "labels": true, "labelOverlap": false, "values": [0.2,0.4,0.6,0.8]}}},
    "layer": [
     {"mark": {"type": "line", "color": "black", "strokeWidth": 3.8}},
     {"mark": {"type": "rule", "color": "#555", "strokeWidth": 1.3}, "encoding": {"y": {"field": "lo", "type": "quantitative", "scale": {"domain": [0, 1.065], "nice": false, "zero": false}, "axis": {"title": null, "minExtent": 44, "labels": true, "labelOverlap": false, "values": [0.2,0.4,0.6,0.8]}}, "y2": {"field": "hi"}}}
    ]},
   {"title": "0.56 – 0.67", "width": 201, "height": 122.5, "transform": [{"filter": "datum.p == 4"}],
    "encoding": {"x": {"field": "r", "type": "quantitative", "scale": {"domain": [1.05, 15.3], "nice": false, "zero": false}, "axis": {"title": null, "minExtent": 32, "values": [1.5,2,2.5,3,3.5,4,4.5,5,5.5,6,6.5,7,7.5,8,8.5,9,9.5,10,10.5,11,11.5,12,12.5,13,13.5,14,14.5,15], "labelExpr": "datum.value % 2 === 0 ? '' + datum.value : ''"}},
     "y": {"field": "v", "type": "quantitative", "scale": {"domain": [0, 1.065], "nice": false, "zero": false}, "axis": {"title": null, "minExtent": 44, "labels": true, "labelOverlap": false, "values": [0.2,0.4,0.6,0.8]}}},
    "layer": [
     {"mark": {"type": "line", "color": "black", "strokeWidth": 3.8}},
     {"mark": {"type": "rule", "color": "#555", "strokeWidth": 1.3}, "encoding": {"y": {"field": "lo", "type": "quantitative", "scale": {"domain": [0, 1.065], "nice": false, "zero": false}, "axis": {"title": null, "minExtent": 44, "labels": true, "labelOverlap": false, "values": [0.2,0.4,0.6,0.8]}}, "y2": {"field": "hi"}}}
    ]},
   {"title": "0.67 – 0.78", "width": 201, "height": 122.5, "transform": [{"filter": "datum.p == 5"}],
    "encoding": {"x": {"field": "r", "type": "quantitative", "scale": {"domain": [1.05, 15.3], "nice": false, "zero": false}, "axis": {"title": null, "minExtent": 32, "values": [1.5,2,2.5,3,3.5,4,4.5,5,5.5,6,6.5,7,7.5,8,8.5,9,9.5,10,10.5,11,11.5,12,12.5,13,13.5,14,14.5,15], "labelExpr": "datum.value % 2 === 0 ? '' + datum.value : ''"}},
     "y": {"field": "v", "type": "quantitative", "scale": {"domain": [0, 1.065], "nice": false, "zero": false}, "axis": {"title": null, "minExtent": 44, "labels": true, "labelOverlap": false, "values": [0.2,0.4,0.6,0.8]}}},
    "layer": [
     {"mark": {"type": "line", "color": "black", "strokeWidth": 3.8}},
     {"mark": {"type": "rule", "color": "#555", "strokeWidth": 1.3}, "encoding": {"y": {"field": "lo", "type": "quantitative", "scale": {"domain": [0, 1.065], "nice": false, "zero": false}, "axis": {"title": null, "minExtent": 44, "labels": true, "labelOverlap": false, "values": [0.2,0.4,0.6,0.8]}}, "y2": {"field": "hi"}}}
    ]},
   {"title": "0.78 – 0.89", "width": 201, "height": 122.5, "transform": [{"filter": "datum.p == 6"}],
    "encoding": {"x": {"field": "r", "type": "quantitative", "scale": {"domain": [1.05, 15.3], "nice": false, "zero": false}, "axis": {"title": null, "minExtent": 32, "values": [1.5,2,2.5,3,3.5,4,4.5,5,5.5,6,6.5,7,7.5,8,8.5,9,9.5,10,10.5,11,11.5,12,12.5,13,13.5,14,14.5,15], "labelExpr": "datum.value % 2 === 0 ? '' + datum.value : ''"}},
     "y": {"field": "v", "type": "quantitative", "scale": {"domain": [0, 1.065], "nice": false, "zero": false}, "axis": {"title": null, "minExtent": 44, "labels": true, "labelOverlap": false, "values": [0.2,0.4,0.6,0.8]}}},
    "layer": [
     {"mark": {"type": "line", "color": "black", "strokeWidth": 3.8}},
     {"mark": {"type": "rule", "color": "#555", "strokeWidth": 1.3}, "encoding": {"y": {"field": "lo", "type": "quantitative", "scale": {"domain": [0, 1.065], "nice": false, "zero": false}, "axis": {"title": null, "minExtent": 44, "labels": true, "labelOverlap": false, "values": [0.2,0.4,0.6,0.8]}}, "y2": {"field": "hi"}}}
    ]},
   {"title": "0.89 – 1.00", "width": 201, "height": 122.5, "transform": [{"filter": "datum.p == 7"}],
    "encoding": {"x": {"field": "r", "type": "quantitative", "scale": {"domain": [1.05, 15.3], "nice": false, "zero": false}, "axis": {"title": null, "minExtent": 32, "values": [1.5,2,2.5,3,3.5,4,4.5,5,5.5,6,6.5,7,7.5,8,8.5,9,9.5,10,10.5,11,11.5,12,12.5,13,13.5,14,14.5,15], "labelExpr": "datum.value % 2 === 0 ? '' + datum.value : ''"}},
     "y": {"field": "v", "type": "quantitative", "scale": {"domain": [0, 1.065], "nice": false, "zero": false}, "axis": {"title": null, "minExtent": 44, "labels": true, "labelOverlap": false, "values": [0.2,0.4,0.6,0.8]}}},
    "layer": [
     {"mark": {"type": "line", "color": "black", "strokeWidth": 3.8}},
     {"mark": {"type": "rule", "color": "#555", "strokeWidth": 1.3}, "encoding": {"y": {"field": "lo", "type": "quantitative", "scale": {"domain": [0, 1.065], "nice": false, "zero": false}, "axis": {"title": null, "minExtent": 44, "labels": true, "labelOverlap": false, "values": [0.2,0.4,0.6,0.8]}}, "y2": {"field": "hi"}}}
    ]},
   {"title": "1.00 – 1.11", "width": 201, "height": 122.5, "transform": [{"filter": "datum.p == 8"}],
    "encoding": {"x": {"field": "r", "type": "quantitative", "scale": {"domain": [1.05, 15.3], "nice": false, "zero": false}, "axis": {"title": null, "minExtent": 32, "values": [1.5,2,2.5,3,3.5,4,4.5,5,5.5,6,6.5,7,7.5,8,8.5,9,9.5,10,10.5,11,11.5,12,12.5,13,13.5,14,14.5,15], "labelExpr": "datum.value % 2 === 0 ? '' + datum.value : ''"}},
     "y": {"field": "v", "type": "quantitative", "scale": {"domain": [0, 1.065], "nice": false, "zero": false}, "axis": {"title": null, "minExtent": 44, "labels": true, "labelOverlap": false, "values": [0.2,0.4,0.6,0.8]}}},
    "layer": [
     {"mark": {"type": "line", "color": "black", "strokeWidth": 3.8}},
     {"mark": {"type": "rule", "color": "#555", "strokeWidth": 1.3}, "encoding": {"y": {"field": "lo", "type": "quantitative", "scale": {"domain": [0, 1.065], "nice": false, "zero": false}, "axis": {"title": null, "minExtent": 44, "labels": true, "labelOverlap": false, "values": [0.2,0.4,0.6,0.8]}}, "y2": {"field": "hi"}}}
    ]}
  ]},
  {"width": 2, "height": 1301, "view": {"fill": "black", "stroke": "black", "strokeWidth": 2}, "data": {"values": []}, "mark": "point"}
 ]},
 {"width": 266, "height": 2, "view": {"fill": "black", "stroke": "black", "strokeWidth": 2}, "data": {"values": []}, "mark": "point",
  "encoding": {"x": {"field": "r", "type": "quantitative", "scale": {"domain": [0, 1]}, "axis": {"title": "Radius  (r/R⁎)", "labels": false, "ticks": false, "domain": false, "minExtent": 0, "titleFontSize": 32, "titleFontWeight": "bold", "titleColor": "black", "titlePadding": 11}}}}
]},
{"spacing": 0, "vconcat": [
 {"width": 266, "height": 2, "view": {"fill": "black", "stroke": "black", "strokeWidth": 2}, "data": {"values": []}, "mark": "point"},
 {"center": true, "spacing": 6, "hconcat": [
  {"width": 2, "height": 1301, "view": {"fill": "black", "stroke": "black", "strokeWidth": 2}, "data": {"values": []}, "mark": "point",
   "encoding": {"y": {"field": "v", "type": "quantitative", "scale": {"domain": [0, 1]}, "axis": {"title": "Δρf(r) (%)", "labels": false, "ticks": false, "domain": false, "minExtent": 0, "titleFontSize": 32, "titleFontWeight": "bold", "titleColor": "black", "titlePadding": 10}}}},
  {"data": {"name": "dr"}, "spacing": 0, "vconcat": [
   {"title": "0.22 – 0.33", "width": 197, "height": 121, "transform": [{"filter": "datum.p == 1"}],
    "encoding": {"x": {"field": "r", "type": "quantitative", "scale": {"domain": [1.05, 15.3], "nice": false, "zero": false}, "axis": {"title": null, "minExtent": 33.5, "values": [1.5,2,2.5,3,3.5,4,4.5,5,5.5,6,6.5,7,7.5,8,8.5,9,9.5,10,10.5,11,11.5,12,12.5,13,13.5,14,14.5,15], "labelExpr": "datum.value % 2 === 0 ? '' + datum.value : ''"}},
     "y": {"field": "v", "type": "quantitative", "scale": {"domain": [-55, 94], "nice": false, "zero": false}, "axis": {"title": null, "minExtent": 50, "labelPadding": 6, "values": [-40,-20,0,20,40,60,80], "labelExpr": "datum.value % 40 === 0 ? datum.label : ''"}}},
    "layer": [
     {"transform": [{"aggregate": [{"op": "count", "as": "n"}]}], "mark": {"type": "rule", "color": "#333", "strokeWidth": 1}, "encoding": {"x": {"datum": 1.05}, "x2": {"datum": 15.3}, "y": {"datum": 0, "type": "quantitative"}}},
     {"mark": {"type": "rule", "color": "#555", "strokeWidth": 1.3}, "encoding": {"y": {"field": "lo", "type": "quantitative", "scale": {"domain": [-55, 94], "nice": false, "zero": false}, "axis": {"title": null, "minExtent": 50, "labelPadding": 6}}, "y2": {"field": "hi"}}},
     {"mark": {"type": "line", "color": "black", "strokeWidth": 3.8}}
    ]},
   {"title": "0.33 – 0.44", "width": 197, "height": 121, "transform": [{"filter": "datum.p == 2"}],
    "encoding": {"x": {"field": "r", "type": "quantitative", "scale": {"domain": [1.05, 15.3], "nice": false, "zero": false}, "axis": {"title": null, "minExtent": 33.5, "values": [1.5,2,2.5,3,3.5,4,4.5,5,5.5,6,6.5,7,7.5,8,8.5,9,9.5,10,10.5,11,11.5,12,12.5,13,13.5,14,14.5,15], "labelExpr": "datum.value % 2 === 0 ? '' + datum.value : ''"}},
     "y": {"field": "v", "type": "quantitative", "scale": {"domain": [-55, 94], "nice": false, "zero": false}, "axis": {"title": null, "minExtent": 50, "labelPadding": 6, "values": [-40,-20,0,20,40,60,80], "labelExpr": "datum.value % 40 === 0 ? datum.label : ''"}}},
    "layer": [
     {"transform": [{"aggregate": [{"op": "count", "as": "n"}]}], "mark": {"type": "rule", "color": "#333", "strokeWidth": 1}, "encoding": {"x": {"datum": 1.05}, "x2": {"datum": 15.3}, "y": {"datum": 0, "type": "quantitative"}}},
     {"mark": {"type": "rule", "color": "#555", "strokeWidth": 1.3}, "encoding": {"y": {"field": "lo", "type": "quantitative", "scale": {"domain": [-55, 94], "nice": false, "zero": false}, "axis": {"title": null, "minExtent": 50, "labelPadding": 6}}, "y2": {"field": "hi"}}},
     {"mark": {"type": "line", "color": "black", "strokeWidth": 3.8}}
    ]},
   {"title": "0.44 – 0.56", "width": 197, "height": 121, "transform": [{"filter": "datum.p == 3"}],
    "encoding": {"x": {"field": "r", "type": "quantitative", "scale": {"domain": [1.05, 15.3], "nice": false, "zero": false}, "axis": {"title": null, "minExtent": 33.5, "values": [1.5,2,2.5,3,3.5,4,4.5,5,5.5,6,6.5,7,7.5,8,8.5,9,9.5,10,10.5,11,11.5,12,12.5,13,13.5,14,14.5,15], "labelExpr": "datum.value % 2 === 0 ? '' + datum.value : ''"}},
     "y": {"field": "v", "type": "quantitative", "scale": {"domain": [-55, 94], "nice": false, "zero": false}, "axis": {"title": null, "minExtent": 50, "labelPadding": 6, "values": [-40,-20,0,20,40,60,80], "labelExpr": "datum.value % 40 === 0 ? datum.label : ''"}}},
    "layer": [
     {"transform": [{"aggregate": [{"op": "count", "as": "n"}]}], "mark": {"type": "rule", "color": "#333", "strokeWidth": 1}, "encoding": {"x": {"datum": 1.05}, "x2": {"datum": 15.3}, "y": {"datum": 0, "type": "quantitative"}}},
     {"mark": {"type": "rule", "color": "#555", "strokeWidth": 1.3}, "encoding": {"y": {"field": "lo", "type": "quantitative", "scale": {"domain": [-55, 94], "nice": false, "zero": false}, "axis": {"title": null, "minExtent": 50, "labelPadding": 6}}, "y2": {"field": "hi"}}},
     {"mark": {"type": "line", "color": "black", "strokeWidth": 3.8}}
    ]},
   {"title": "0.56 – 0.67", "width": 197, "height": 121, "transform": [{"filter": "datum.p == 4"}],
    "encoding": {"x": {"field": "r", "type": "quantitative", "scale": {"domain": [1.05, 15.3], "nice": false, "zero": false}, "axis": {"title": null, "minExtent": 33.5, "values": [1.5,2,2.5,3,3.5,4,4.5,5,5.5,6,6.5,7,7.5,8,8.5,9,9.5,10,10.5,11,11.5,12,12.5,13,13.5,14,14.5,15], "labelExpr": "datum.value % 2 === 0 ? '' + datum.value : ''"}},
     "y": {"field": "v", "type": "quantitative", "scale": {"domain": [-55, 94], "nice": false, "zero": false}, "axis": {"title": null, "minExtent": 50, "labelPadding": 6, "values": [-40,-20,0,20,40,60,80], "labelExpr": "datum.value % 40 === 0 ? datum.label : ''"}}},
    "layer": [
     {"transform": [{"aggregate": [{"op": "count", "as": "n"}]}], "mark": {"type": "rule", "color": "#333", "strokeWidth": 1}, "encoding": {"x": {"datum": 1.05}, "x2": {"datum": 15.3}, "y": {"datum": 0, "type": "quantitative"}}},
     {"mark": {"type": "rule", "color": "#555", "strokeWidth": 1.3}, "encoding": {"y": {"field": "lo", "type": "quantitative", "scale": {"domain": [-55, 94], "nice": false, "zero": false}, "axis": {"title": null, "minExtent": 50, "labelPadding": 6}}, "y2": {"field": "hi"}}},
     {"mark": {"type": "line", "color": "black", "strokeWidth": 3.8}}
    ]},
   {"title": "0.67 – 0.78", "width": 197, "height": 121, "transform": [{"filter": "datum.p == 5"}],
    "encoding": {"x": {"field": "r", "type": "quantitative", "scale": {"domain": [1.05, 15.3], "nice": false, "zero": false}, "axis": {"title": null, "minExtent": 33.5, "values": [1.5,2,2.5,3,3.5,4,4.5,5,5.5,6,6.5,7,7.5,8,8.5,9,9.5,10,10.5,11,11.5,12,12.5,13,13.5,14,14.5,15], "labelExpr": "datum.value % 2 === 0 ? '' + datum.value : ''"}},
     "y": {"field": "v", "type": "quantitative", "scale": {"domain": [-55, 94], "nice": false, "zero": false}, "axis": {"title": null, "minExtent": 50, "labelPadding": 6, "values": [-40,-20,0,20,40,60,80], "labelExpr": "datum.value % 40 === 0 ? datum.label : ''"}}},
    "layer": [
     {"transform": [{"aggregate": [{"op": "count", "as": "n"}]}], "mark": {"type": "rule", "color": "#333", "strokeWidth": 1}, "encoding": {"x": {"datum": 1.05}, "x2": {"datum": 15.3}, "y": {"datum": 0, "type": "quantitative"}}},
     {"mark": {"type": "rule", "color": "#555", "strokeWidth": 1.3}, "encoding": {"y": {"field": "lo", "type": "quantitative", "scale": {"domain": [-55, 94], "nice": false, "zero": false}, "axis": {"title": null, "minExtent": 50, "labelPadding": 6}}, "y2": {"field": "hi"}}},
     {"mark": {"type": "line", "color": "black", "strokeWidth": 3.8}}
    ]},
   {"title": "0.78 – 0.89", "width": 197, "height": 121, "transform": [{"filter": "datum.p == 6"}],
    "encoding": {"x": {"field": "r", "type": "quantitative", "scale": {"domain": [1.05, 15.3], "nice": false, "zero": false}, "axis": {"title": null, "minExtent": 33.5, "values": [1.5,2,2.5,3,3.5,4,4.5,5,5.5,6,6.5,7,7.5,8,8.5,9,9.5,10,10.5,11,11.5,12,12.5,13,13.5,14,14.5,15], "labelExpr": "datum.value % 2 === 0 ? '' + datum.value : ''"}},
     "y": {"field": "v", "type": "quantitative", "scale": {"domain": [-55, 94], "nice": false, "zero": false}, "axis": {"title": null, "minExtent": 50, "labelPadding": 6, "values": [-40,-20,0,20,40,60,80], "labelExpr": "datum.value % 40 === 0 ? datum.label : ''"}}},
    "layer": [
     {"transform": [{"aggregate": [{"op": "count", "as": "n"}]}], "mark": {"type": "rule", "color": "#333", "strokeWidth": 1}, "encoding": {"x": {"datum": 1.05}, "x2": {"datum": 15.3}, "y": {"datum": 0, "type": "quantitative"}}},
     {"mark": {"type": "rule", "color": "#555", "strokeWidth": 1.3}, "encoding": {"y": {"field": "lo", "type": "quantitative", "scale": {"domain": [-55, 94], "nice": false, "zero": false}, "axis": {"title": null, "minExtent": 50, "labelPadding": 6}}, "y2": {"field": "hi"}}},
     {"mark": {"type": "line", "color": "black", "strokeWidth": 3.8}}
    ]},
   {"title": "0.89 – 1.00", "width": 197, "height": 121, "transform": [{"filter": "datum.p == 7"}],
    "encoding": {"x": {"field": "r", "type": "quantitative", "scale": {"domain": [1.05, 15.3], "nice": false, "zero": false}, "axis": {"title": null, "minExtent": 33.5, "values": [1.5,2,2.5,3,3.5,4,4.5,5,5.5,6,6.5,7,7.5,8,8.5,9,9.5,10,10.5,11,11.5,12,12.5,13,13.5,14,14.5,15], "labelExpr": "datum.value % 2 === 0 ? '' + datum.value : ''"}},
     "y": {"field": "v", "type": "quantitative", "scale": {"domain": [-55, 94], "nice": false, "zero": false}, "axis": {"title": null, "minExtent": 50, "labelPadding": 6, "values": [-40,-20,0,20,40,60,80], "labelExpr": "datum.value % 40 === 0 ? datum.label : ''"}}},
    "layer": [
     {"transform": [{"aggregate": [{"op": "count", "as": "n"}]}], "mark": {"type": "rule", "color": "#333", "strokeWidth": 1}, "encoding": {"x": {"datum": 1.05}, "x2": {"datum": 15.3}, "y": {"datum": 0, "type": "quantitative"}}},
     {"mark": {"type": "rule", "color": "#555", "strokeWidth": 1.3}, "encoding": {"y": {"field": "lo", "type": "quantitative", "scale": {"domain": [-55, 94], "nice": false, "zero": false}, "axis": {"title": null, "minExtent": 50, "labelPadding": 6}}, "y2": {"field": "hi"}}},
     {"mark": {"type": "line", "color": "black", "strokeWidth": 3.8}}
    ]},
   {"title": "1.00 – 1.11", "width": 197, "height": 121, "transform": [{"filter": "datum.p == 8"}],
    "encoding": {"x": {"field": "r", "type": "quantitative", "scale": {"domain": [1.05, 15.3], "nice": false, "zero": false}, "axis": {"title": null, "minExtent": 33.5, "values": [1.5,2,2.5,3,3.5,4,4.5,5,5.5,6,6.5,7,7.5,8,8.5,9,9.5,10,10.5,11,11.5,12,12.5,13,13.5,14,14.5,15], "labelExpr": "datum.value % 2 === 0 ? '' + datum.value : ''"}},
     "y": {"field": "v", "type": "quantitative", "scale": {"domain": [-55, 94], "nice": false, "zero": false}, "axis": {"title": null, "minExtent": 50, "labelPadding": 6, "values": [-40,-20,0,20,40,60,80], "labelExpr": "datum.value % 40 === 0 ? datum.label : ''"}}},
    "layer": [
     {"transform": [{"aggregate": [{"op": "count", "as": "n"}]}], "mark": {"type": "rule", "color": "#333", "strokeWidth": 1}, "encoding": {"x": {"datum": 1.05}, "x2": {"datum": 15.3}, "y": {"datum": 0, "type": "quantitative"}}},
     {"mark": {"type": "rule", "color": "#555", "strokeWidth": 1.3}, "encoding": {"y": {"field": "lo", "type": "quantitative", "scale": {"domain": [-55, 94], "nice": false, "zero": false}, "axis": {"title": null, "minExtent": 50, "labelPadding": 6}}, "y2": {"field": "hi"}}},
     {"mark": {"type": "line", "color": "black", "strokeWidth": 3.8}}
    ]}
  ]},
  {"width": 2, "height": 1301, "view": {"fill": "black", "stroke": "black", "strokeWidth": 2}, "data": {"values": []}, "mark": "point"}
 ]},
 {"width": 266, "height": 2, "view": {"fill": "black", "stroke": "black", "strokeWidth": 2}, "data": {"values": []}, "mark": "point",
  "encoding": {"x": {"field": "r", "type": "quantitative", "scale": {"domain": [0, 1]}, "axis": {"title": "Radius  (r/R⁎)", "labels": false, "ticks": false, "domain": false, "minExtent": 0, "titleFontSize": 32, "titleFontWeight": "bold", "titleColor": "black", "titlePadding": 11}}}}
]}
],
"config": {
 "font": "Liberation Sans",
 "view": {"stroke": "#888", "strokeWidth": 1},
 "axis": {"grid": false, "domainColor": "black", "domainWidth": 1, "tickColor": "black", "tickWidth": 1, "tickSize": -4, "labelFont": "Liberation Sans", "labelFontSize": 21, "labelColor": "black", "labelFlush": false, "labelOverlap": false, "labelBound": false, "titleFont": "Liberation Sans"},
 "axisX": {"labelPadding": 14},
 "axisY": {"labelPadding": 12},
 "title": {"font": "Liberation Sans", "fontSize": 21, "fontWeight": "bold", "color": "black", "offset": -34, "baseline": "alphabetic", "anchor": "middle", "frame": "group"}
}
}
